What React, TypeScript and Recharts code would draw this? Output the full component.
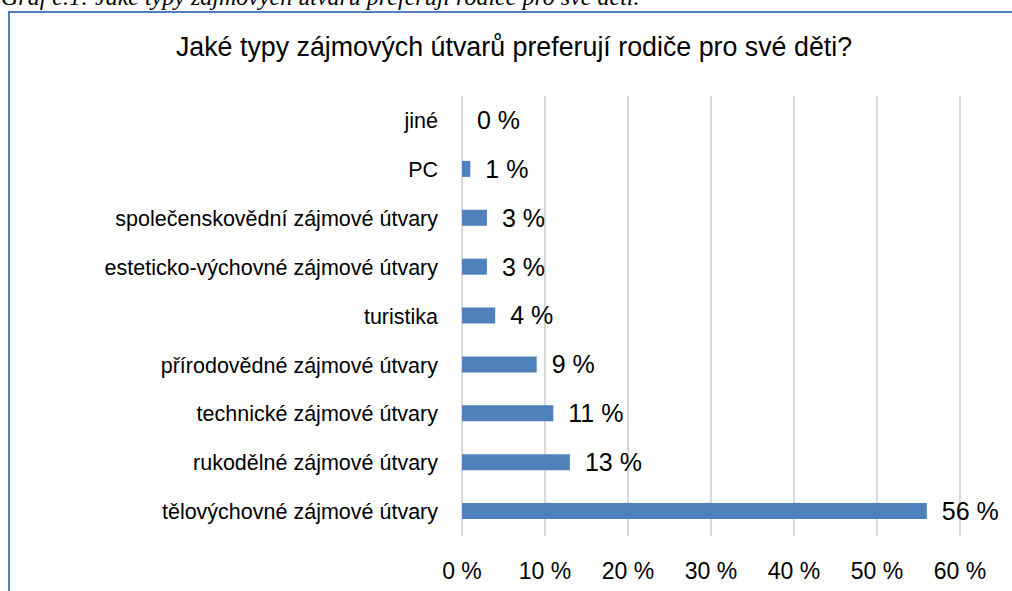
import React from "react";
import { BarChart, Bar, XAxis, YAxis, CartesianGrid, LabelList } from "recharts";

const categories = [
  "jiné",
  "PC",
  "společenskovědní zájmové útvary",
  "esteticko-výchovné zájmové útvary",
  "turistika",
  "přírodovědné zájmové útvary",
  "technické zájmové útvary",
  "rukodělné zájmové útvary",
  "tělovýchovné zájmové útvary",
];
const values = [0, 1, 3, 3, 4, 9, 11, 13, 56];
const xTicks = [0, 10, 20, 30, 40, 50, 60];
const title = "Jaké typy zájmových útvarů preferují rodiče pro své děti?";
const caption = "Graf č.1: Jaké typy zájmových útvarů preferují rodiče pro své děti.";

const data = categories.map((name, i) => ({ name, value: values[i] }));

const FONT = "'Liberation Sans', Arial, sans-serif";

export default function App() {
  return (
    <div
      style={{
        position: "absolute",
        left: 0,
        top: 0,
        width: 1012,
        height: 591,
        overflow: "hidden",
        background: "#fff",
      }}
    >
      <div
        style={{
          position: "absolute",
          left: 1,
          top: -17,
          fontFamily: "'Liberation Serif', 'Times New Roman', serif",
          fontStyle: "italic",
          fontSize: 24,
          lineHeight: "28px",
          color: "#000",
          whiteSpace: "nowrap",
        }}
      >
        {caption}
      </div>
      <div
        style={{
          position: "absolute",
          left: 8,
          top: 11,
          width: 1100,
          height: 700,
          border: "2px solid #4F81BD",
          boxSizing: "border-box",
        }}
      />
      <div
        style={{
          position: "absolute",
          left: 0,
          top: 31,
          width: 1012,
          textAlign: "center",
          fontFamily: FONT,
          fontSize: 26.8,
          lineHeight: "32px",
          color: "#000",
          whiteSpace: "nowrap",
          paddingLeft: 16,
          boxSizing: "border-box",
        }}
      >
        {title}
      </div>
      <div style={{ position: "absolute", left: 0, top: 0 }}>
        <BarChart
          width={1012}
          height={591}
          data={data}
          layout="vertical"
          margin={{ top: 96, right: 52, bottom: 15, left: 0 }}
          barCategoryGap={0}
        >
          <CartesianGrid
            horizontal={false}
            vertical={true}
            stroke="#D9D9D9"
            strokeWidth={2}
          />
          <XAxis
            type="number"
            domain={[0, 60]}
            ticks={xTicks}
            tickFormatter={(v: number) => `${v} %`}
            axisLine={false}
            tickLine={false}
            tickSize={0}
            tickMargin={27}
            height={40}
            interval={0}
            tick={{ fill: "#000", fontSize: 23, fontFamily: FONT }}
          />
          <YAxis
            type="category"
            dataKey="name"
            width={462}
            axisLine={false}
            tickLine={false}
            tickSize={0}
            tickMargin={24}
            interval={0}
            tick={{ fill: "#000", fontSize: 21.5, fontFamily: FONT }}
          />
          <Bar
            dataKey="value"
            fill="#4F81BD"
            barSize={16}
            minPointSize={0.01}
            isAnimationActive={false}
          >
            <LabelList
              dataKey="value"
              position="right"
              offset={15}
              formatter={(v: number) => `${v} %`}
              style={{ fill: "#000", fontSize: 25, fontFamily: FONT }}
            />
          </Bar>
        </BarChart>
      </div>
    </div>
  );
}
